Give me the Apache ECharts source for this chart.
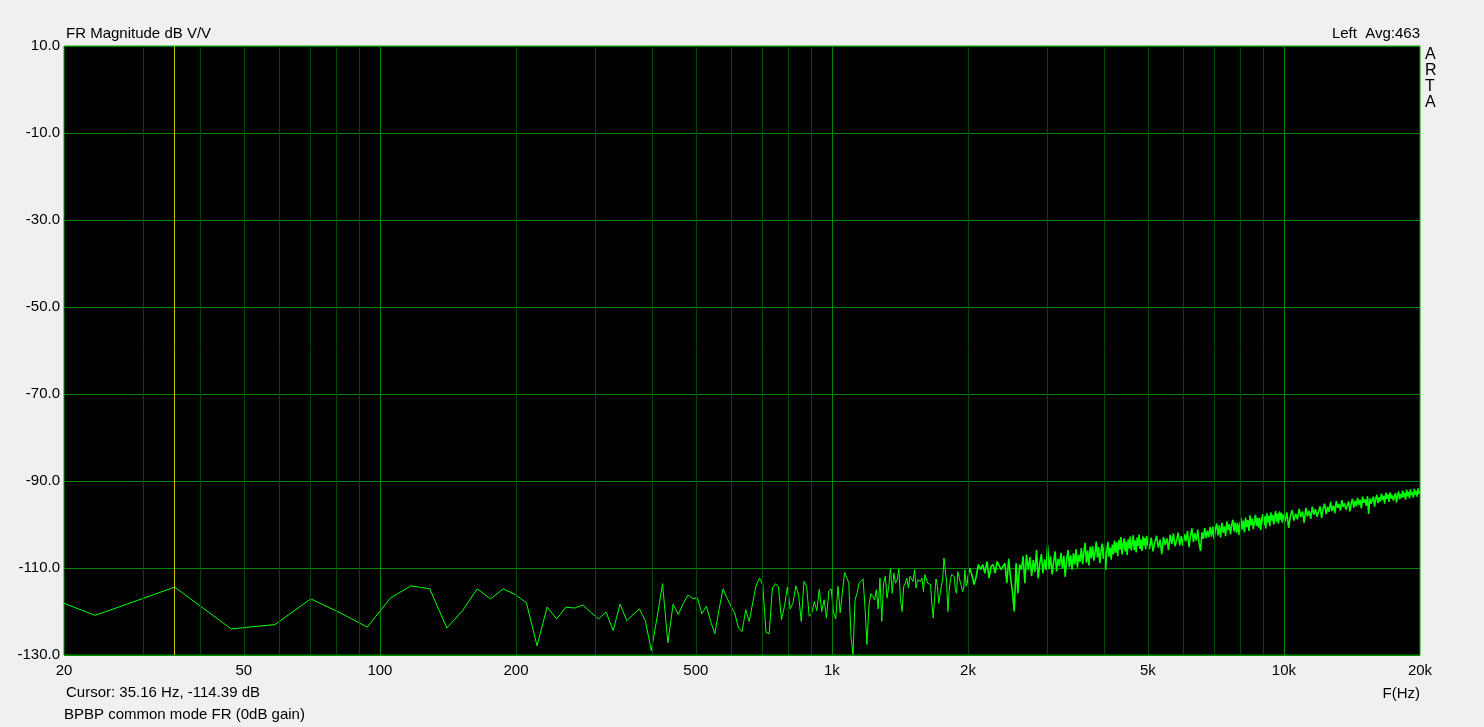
<!DOCTYPE html>
<html><head><meta charset="utf-8">
<script src="https://cdn.jsdelivr.net/npm/echarts@6/dist/echarts.min.js"></script>
<style>html,body{margin:0;padding:0;background:#f0f0f0;}#c{width:1484px;height:727px;}</style>
</head><body><div id="c"></div>
<script>
// FFT bin width (48 kHz / 4096)
const BIN_HZ = 11.71875;

// dB values for every bin 1..170
const lowDb = [
 -108.7,-120.9,-114.4,-124.0,-123.0,-117.1,-120.4,-123.6,-116.9,-114.1,
 -114.8,-123.8,-119.8,-114.8,-117.1,-114.8,-116.1,-118.0,-127.9,-119.0,
 -121.7,-119.0,-119.2,-118.5,-120.2,-121.7,-120.1,-124.4,-118.3,-122.1,
 -120.7,-119.4,-122.2,-129.0,-121.5,-113.6,-127.2,-118.3,-120.7,-118.2,
 -116.2,-117.0,-116.9,-120.5,-118.8,-122.3,-125.1,-119.6,-114.8,-116.9,
 -118.8,-120.3,-123.8,-124.6,-119.6,-122.3,-118.0,-114.0,-112.3,-113.8,
 -124.8,-125.1,-114.6,-113.6,-114.4,-121.9,-118.8,-114.4,-119.4,-118.0,
 -114.1,-116.2,-122.3,-113.1,-114.2,-121.1,-120.4,-117.7,-119.8,-114.9,
 -120.0,-117.3,-121.5,-115.3,-114.8,-120.0,-121.7,-114.2,-120.3,-115.6,
 -111.0,-112.2,-113.5,-125.7,-129.8,-117.3,-115.8,-113.5,-113.1,-112.5,
 -119.2,-127.6,-118.8,-115.9,-116.5,-117.3,-115.0,-119.4,-112.3,-122.3,
 -113.5,-111.9,-116.9,-114.2,-110.0,-115.8,-111.2,-113.5,-112.7,-110.2,
 -117.3,-120.0,-114.2,-113.5,-112.3,-114.6,-111.9,-112.5,-113.1,-110.4,
 -114.6,-112.7,-112.5,-113.1,-112.3,-115.4,-111.5,-111.2,-113.5,-113.1,
 -113.8,-118.4,-121.5,-116.5,-112.5,-114.2,-118.1,-118.4,-114.2,-112.7,
 -107.7,-110.4,-113.1,-120.0,-115.4,-112.7,-111.5,-111.2,-111.9,-115.0,
 -115.8,-110.8,-111.2,-113.1,-114.2,-115.4,-114.6,-110.4,-114.2,-113.5
];

// every 2nd bin from bin 172
const MID_START = 172, MID_STEP = 2;
const midDb = [
 -110.0,-111.5,-113.8,-111.9,-109.2,-110.4,-109.2,-111.2,-108.5,-112.3,
 -109.6,-109.2,-111.2,-108.5,-108.9,-110.4,-109.6,-108.9,-113.5,-107.9,
 -112.3,-115.4,-120.0,-108.9,-115.8,-109.2,-110.4,-107.3,-113.5,-106.9,
 -110.4,
 -107.5,-111.8,-108.2,-110.9,-105.9,-112.4,-109.0,-106.8,-111.2,-108.0,
 -110.5,-104.8,-110.2,-107.3,-111.5,-108.6,-106.2,-110.8,-107.9,-109.6,
 -106.5,-110.1,-107.2,-112.0,-108.3,-105.9,-109.8,-107.1,-110.4,-106.6,
 -109.2,-105.7,-109.9,-107.0,
 -108.6,-105.4,-109.1,-106.3,-104.2,-108.8,-106.0,-109.4,-105.1,-107.8,
 -104.9,-108.3,-106.4,-103.9,-107.6,-105.2,-108.9,-106.1,-104.4,-107.9,
 -105.0,-110.5,-106.2,-104.0,-107.4,-105.3,-108.1,-104.6,-106.9,-103.7,
 -106.5,-104.1,-107.3,-103.6,-105.8,-102.9,-106.9,-104.5,-103.2,-106.2,
 -104.0,-107.0,-103.4,-105.5,-102.8,-106.0,-104.2,-102.5,-105.9,-103.7,
 -106.4,-103.0,-104.9,-102.3,-105.6,-103.5,-106.1,-102.7,-104.8,-103.1,
 -105.7,-102.6,-104.4
];

// every 4th bin from bin 430
const UP_START = 430, UP_STEP = 4;
const upDb = [
 -105.6,-103.0,-106.2,-104.1,-102.6,-105.3,-103.5,-106.8,-102.9,-104.7,
 -103.2,-105.9,-102.4,-104.5,-102.1,-105.0,-103.6,-101.9,-104.8,-102.7,
 -104.9,-102.2,-103.8,-101.5,-105.2,-102.6,-100.9,-104.0,-102.0,-103.7,
 -101.2,-104.4,-106.1,-101.8,-103.3,-100.8,-103.1,-101.4,-102.9,-100.6,
 -102.8,-100.5,-103.4,-101.0,-99.8,-102.5,-100.2,-103.0,-99.6,-101.9,
 -100.4,-102.7,-99.3,-101.3,-99.9,-102.3,-100.1,-98.9,-101.6,-99.5,
 -101.9,-99.6,-102.4,-100.0,-98.6,-101.2,-99.1,-101.8,-98.4,-100.6,
 -99.0,-101.5,-97.9,-100.2,-98.7,-101.0,-99.4,-97.8,-100.3,-98.5,
 -100.7,-98.4,-101.3,-99.0,-97.6,-100.2,-98.1,-100.9,-97.4,-99.5,
 -98.0,-100.4,-97.2,-99.1,-97.8,-100.0,-98.3,-96.9,-99.4,-97.5,
 -99.8,-97.0,-98.9,-97.3,-99.6,-97.7
];

// every 8th bin from bin 858
const TOP_START = 858, TOP_STEP = 8;
const topDb = [
 -99.4,-97.2,-100.8,-98.0,-96.7,-99.1,-97.5,-98.8,-96.4,-98.3,
 -97.0,-99.6,-96.2,-98.1,-96.9,-98.7,-95.9,-97.7,-96.5,-98.2,
 -97.9,-95.8,-98.5,-96.3,-95.2,-97.6,-95.9,-97.1,-94.8,-96.9,
 -95.6,-97.4,-94.6,-96.2,-95.3,-96.8,-94.4,-96.0,-95.1,-96.6,
 -96.5,-94.7,-97.0,-95.2,-94.1,-96.1,-94.6,-95.8,-93.9,-95.5,
 -94.3,-96.3,-93.6,-95.0,-94.2,-95.7,-93.5,-97.6,-94.0,-95.2,
 -95.4,-93.6,-95.9,-94.1,-93.2,-95.1,-93.8,-94.7,-92.9,-94.4,
 -93.4,-95.2,-92.7,-94.1,-93.1,-94.8,-92.6,-94.0,-93.3,-94.5,
 -94.6,-92.8,-95.0,-93.4,-92.4,-94.2,-93.0,-93.9,-92.2,-93.7,
 -92.7,-94.3,-92.0,-93.5,-92.5,-94.0,-91.9,-93.2,-92.6,-93.8,
 -91.8,-93.1,-92.3,-93.6,-91.7,-92.9,-92.4
];

const xLabelValues = [20, 50, 100, 200, 500, 1000, 2000, 5000, 10000, 20000];
const xMinorGrid = [30,40,50,60,70,80,90,200,300,400,500,600,700,800,900,2000,3000,4000,5000,6000,7000,8000,9000];
const xMajorGrid = [100, 1000, 10000];
const yTicks = { min: -130, max: 10, step: 20 };
const cursorHz = 35.16;
const cursorDb = -114.39;

// low part: every bin; dense part: strided bins (drawn a little thicker, like the many overlapping bins)
const lowPts = [];
lowDb.forEach((v, i) => lowPts.push([(i + 1) * BIN_HZ, v]));
const highPts = [lowPts[lowPts.length - 1]];
midDb.forEach((v, i) => highPts.push([(MID_START + i * MID_STEP) * BIN_HZ, v]));
upDb.forEach((v, i) => highPts.push([(UP_START + i * UP_STEP) * BIN_HZ, v]));
topDb.forEach((v, i) => highPts.push([(TOP_START + i * TOP_STEP) * BIN_HZ, v]));

const FONT = 'Arial, "Liberation Sans", sans-serif';
const fmtHz = v => v >= 1000 ? (v / 1000) + 'k' : String(v);

const chart = echarts.init(document.getElementById('c'), null, { renderer: 'canvas' });
const gridLines = [];
xMinorGrid.forEach(v => gridLines.push({ xAxis: v, lineStyle: { color: '#004a00', width: 1, type: 'solid' } }));
xMajorGrid.forEach(v => gridLines.push({ xAxis: v, lineStyle: { color: '#008800', width: 1, type: 'solid' } }));
gridLines.push({ xAxis: cursorHz, lineStyle: { color: '#c8c400', width: 1, type: 'solid' } });

const textStyle = { fill: '#000', fontSize: 15, fontFamily: FONT };
chart.setOption({
  animation: false,
  backgroundColor: '#f0f0f0',
  grid: { left: 64, top: 46, width: 1356, height: 609, show: true, backgroundColor: '#000', borderColor: '#00a000', borderWidth: 1 },
  xAxis: {
    type: 'log', logBase: 10, min: 20, max: 20000,
    axisLine: { show: false }, axisTick: { show: false }, splitLine: { show: false },
    axisLabel: { customValues: xLabelValues, formatter: fmtHz, color: '#000', fontSize: 15, fontFamily: FONT, margin: 8, showMinLabel: true, showMaxLabel: true }
  },
  yAxis: {
    type: 'value', min: yTicks.min, max: yTicks.max, interval: yTicks.step,
    axisLine: { show: false }, axisTick: { show: false },
    splitLine: { show: true, lineStyle: { color: '#008800', width: 1 } },
    axisLabel: { formatter: v => v.toFixed(1), color: '#000', fontSize: 15, fontFamily: FONT, margin: 4 }
  },
  series: [
    { type: 'line', data: [], z: 1, silent: true,
      markLine: { silent: true, symbol: ['none', 'none'], label: { show: false }, animation: false, data: gridLines } },
    { type: 'line', data: lowPts, z: 3, showSymbol: false, symbol: 'none', clip: true, silent: true,
      lineStyle: { color: '#00ff00', width: 1 } },
    { type: 'line', data: highPts, z: 3, showSymbol: false, symbol: 'none', clip: true, silent: true,
      lineStyle: { color: '#00ff00', width: 1.6 } }
  ],
  graphic: [
    { type: 'text', left: 66, top: 26, style: Object.assign({ text: 'FR Magnitude dB V/V' }, textStyle) },
    { type: 'text', right: 64, top: 26, style: Object.assign({ text: 'Left  Avg:463' }, textStyle) },
    { type: 'text', left: 1425, top: 47, style: { text: 'A\nR\nT\nA', lineHeight: 16, fontSize: 16, fill: '#000', fontFamily: FONT } },
    { type: 'text', left: 66, top: 685, style: Object.assign({ text: 'Cursor: 35.16 Hz, ' + cursorDb.toFixed(2) + ' dB' }, textStyle) },
    { type: 'text', left: 64, top: 707, style: Object.assign({ text: 'BPBP common mode FR (0dB gain)' }, textStyle) },
    { type: 'text', right: 64, top: 686, style: Object.assign({ text: 'F(Hz)' }, textStyle) }
  ]
});
</script></body></html>
